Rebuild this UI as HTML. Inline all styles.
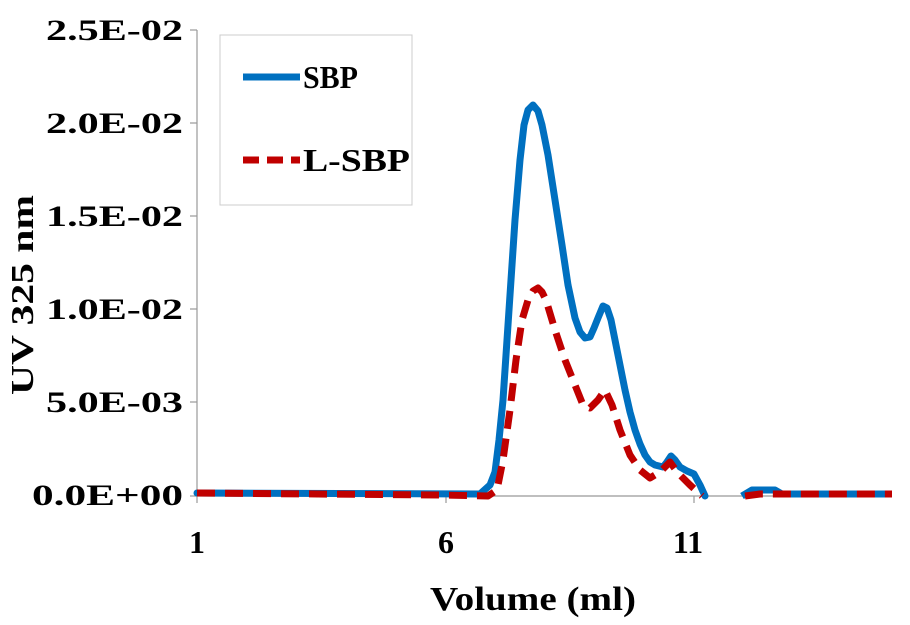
<!DOCTYPE html>
<html><head><style>
body{margin:0;background:#fff}
svg text{font-family:"Liberation Serif",serif;font-weight:bold;fill:#000}
</style></head><body>
<svg width="910" height="620" viewBox="0 0 910 620" xmlns="http://www.w3.org/2000/svg">
<rect width="910" height="620" fill="#fff"/>
<g stroke="#999" stroke-width="1.2">
<line x1="197" y1="30" x2="197" y2="496"/>
<line x1="197" y1="496" x2="892" y2="496"/>
<line x1="190" y1="30" x2="197" y2="30"/><line x1="190" y1="123" x2="197" y2="123"/>
<line x1="190" y1="216" x2="197" y2="216"/><line x1="190" y1="309" x2="197" y2="309"/>
<line x1="190" y1="402" x2="197" y2="402"/><line x1="190" y1="496" x2="197" y2="496"/>
<line x1="197" y1="496" x2="197" y2="503"/><line x1="446" y1="496" x2="446" y2="503"/>
<line x1="694" y1="496" x2="694" y2="503"/>
</g>
<g font-size="30">
<text x="46" y="40" textLength="137" lengthAdjust="spacingAndGlyphs">2.5E-02</text>
<text x="46" y="133" textLength="137" lengthAdjust="spacingAndGlyphs">2.0E-02</text>
<text x="46" y="226" textLength="137" lengthAdjust="spacingAndGlyphs">1.5E-02</text>
<text x="46" y="319" textLength="137" lengthAdjust="spacingAndGlyphs">1.0E-02</text>
<text x="46" y="412" textLength="137" lengthAdjust="spacingAndGlyphs">5.0E-03</text>
<text x="32" y="505" textLength="151" lengthAdjust="spacingAndGlyphs">0.0E+00</text>
</g>
<g font-size="32" text-anchor="middle">
<text x="197" y="553">1</text><text x="446" y="553">6</text><text x="688" y="553">11</text>
</g>
<text x="430" y="610" font-size="34" textLength="206" lengthAdjust="spacingAndGlyphs">Volume (ml)</text>
<text transform="translate(33,395) rotate(-90)" font-size="32" textLength="200" lengthAdjust="spacingAndGlyphs">UV 325 nm</text>
<polyline fill="none" stroke="#0070C0" stroke-width="7" stroke-linejoin="round" stroke-linecap="round" points="197,493 480,494 490,485 495,472 499,440 503,400 507,340 511,280 515,220 520,160 524,125 528,110 533,105 538,111 542,125 548,155 555,200 562,245 568,285 575,318 580,332 585,338 590,337 594,328 598,318 603,306 607,308 611,320 615,340 620,365 625,390 630,412 635,430 640,444 645,455 650,462 655,465 663,467 667,462 671,456 675,460 680,467 687,471 694,474 700,485 705,496"/>
<polyline fill="none" stroke="#0070C0" stroke-width="7" stroke-linejoin="round" points="742,496 752,490 775,490 782,494 892,494"/>
<polyline fill="none" stroke="#C00000" stroke-width="7" stroke-dasharray="18,10" stroke-linejoin="round" points="197,493 440,495 488,496 497,490 503,460 510,410 516,360 522,320 528,300 533,291 538,288 542,292 546,300 555,330 565,360 575,385 583,405 590,408 598,400 605,390 612,405 620,430 630,455 640,470 650,478 660,472 670,462 678,473 690,485 702,496"/>
<polyline fill="none" stroke="#C00000" stroke-width="7" stroke-dasharray="18,10" points="745,496 760,494 892,494"/>
<rect x="220" y="35" width="192" height="170" fill="#fff" stroke="#ccc" stroke-width="1"/>
<line x1="243" y1="77" x2="300" y2="77" stroke="#0070C0" stroke-width="7"/>
<line x1="243" y1="160" x2="300" y2="160" stroke="#C00000" stroke-width="7" stroke-dasharray="16,8"/>
<text x="303" y="88" font-size="32" textLength="55" lengthAdjust="spacingAndGlyphs">SBP</text>
<text x="303" y="171" font-size="32" textLength="107" lengthAdjust="spacingAndGlyphs">L-SBP</text>
</svg>
</body></html>
